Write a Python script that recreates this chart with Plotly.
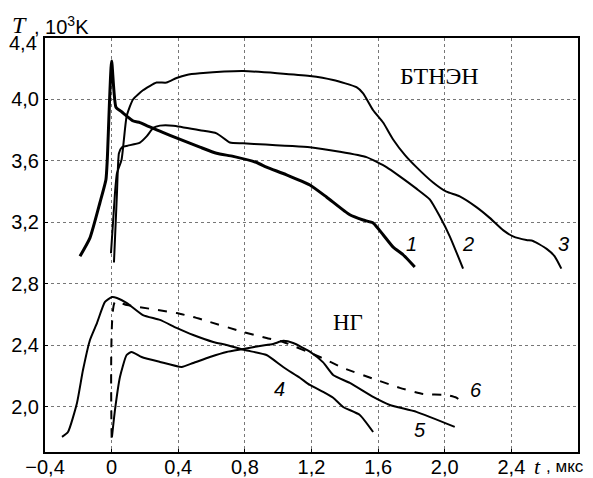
import plotly.graph_objects as go

# ---- data (T in 10^3 K vs t in microseconds) ----
x1 = [-0.19, -0.13, -0.07, -0.034, -0.026, 0.0, 0.026, 0.06, 0.13, 0.17, 0.21, 0.30, 0.40, 0.53, 0.63, 0.73, 0.87, 0.93, 1.05, 1.19, 1.29, 1.43, 1.51, 1.57, 1.63, 1.69, 1.75, 1.82]
y1 = [2.98, 3.10, 3.33, 3.48, 3.61, 4.25, 3.95, 3.92, 3.86, 3.85, 3.83, 3.79, 3.745, 3.69, 3.65, 3.63, 3.59, 3.56, 3.51, 3.444, 3.366, 3.25, 3.216, 3.197, 3.12, 3.04, 2.99, 2.91]

x2 = [0.014, 0.032, 0.044, 0.062, 0.098, 0.17, 0.21, 0.25, 0.29, 0.37, 0.53, 0.63, 0.71, 0.79, 1.19, 1.37, 1.53, 1.65, 1.73, 1.83, 1.91, 1.97, 2.03, 2.11]
y2 = [2.94, 3.39, 3.65, 3.69, 3.70, 3.72, 3.76, 3.815, 3.83, 3.83, 3.80, 3.78, 3.72, 3.715, 3.69, 3.66, 3.625, 3.56, 3.50, 3.42, 3.35, 3.24, 3.11, 2.90]

x3 = [-0.004, 0.02, 0.032, 0.06, 0.09, 0.128, 0.188, 0.27, 0.33, 0.39, 0.45, 0.53, 0.79, 1.19, 1.33, 1.47, 1.51, 1.57, 1.63, 1.69, 1.76, 1.83, 1.93, 2.01, 2.09, 2.19, 2.27, 2.35, 2.41, 2.49, 2.53, 2.61, 2.66, 2.70]
y3 = [3.00, 3.39, 3.52, 3.61, 3.89, 4.00, 4.06, 4.11, 4.11, 4.14, 4.16, 4.17, 4.185, 4.153, 4.127, 4.08, 4.04, 3.93, 3.85, 3.74, 3.64, 3.56, 3.46, 3.40, 3.37, 3.30, 3.23, 3.15, 3.11, 3.086, 3.08, 3.03, 2.98, 2.90]

x4 = [-0.298, -0.262, -0.208, -0.172, -0.13, -0.088, -0.04, 0.002, 0.032, 0.092, 0.188, 0.29, 0.39, 0.49, 0.61, 0.69, 0.80, 0.93, 1.03, 1.13, 1.19, 1.27, 1.33, 1.39, 1.49, 1.57]
y4 = [1.805, 1.837, 2.026, 2.24, 2.436, 2.546, 2.683, 2.715, 2.709, 2.676, 2.598, 2.566, 2.514, 2.468, 2.423, 2.403, 2.37, 2.338, 2.26, 2.19, 2.143, 2.098, 2.06, 2.0, 1.948, 1.837]

x5 = [0.002, 0.02, 0.05, 0.09, 0.12, 0.18, 0.29, 0.42, 0.49, 0.59, 0.69, 0.79, 0.89, 0.97, 1.03, 1.09, 1.19, 1.27, 1.33, 1.43, 1.57, 1.67, 1.83, 2.06]
y5 = [1.805, 1.98, 2.195, 2.338, 2.358, 2.325, 2.293, 2.26, 2.286, 2.325, 2.358, 2.377, 2.397, 2.41, 2.43, 2.416, 2.36, 2.29, 2.208, 2.156, 2.065, 2.013, 1.968, 1.87]

x6 = [0.0, 0.02, 0.092, 0.39, 0.49, 0.59, 0.79, 0.93, 1.03, 1.25, 1.39, 1.59, 1.73, 1.87, 2.01, 2.07, 2.11]
y6 = [1.80, 2.683, 2.663, 2.611, 2.585, 2.553, 2.488, 2.449, 2.423, 2.325, 2.254, 2.176, 2.124, 2.085, 2.078, 2.06, 2.026]

x_tickvals = [-0.4, 0.0, 0.4, 0.8, 1.2, 1.6, 2.0, 2.4, 2.8]
x_ticktext = ["\u22120,4", "0", "0,4", "0,8", "1,2", "1,6", "2,0", "2,4", ""]
y_tickvals = [2.0, 2.4, 2.8, 3.2, 3.6, 4.0, 4.4]
y_ticktext = ["2,0", "2,4", "2,8", "3,2", "3,6", "4,0", ""]
top_ticklabel = "4,4"

curve_labels = ["1", "2", "3", "4", "5", "6"]
label_x = [1.80, 2.14, 2.71, 1.01, 1.85, 2.19]
label_y = [3.06, 3.06, 3.06, 2.12, 1.85, 2.11]

group_labels = ["\u0411\u0422\u041d\u042d\u041d", "\u041d\u0413"]
group_x = [1.97, 1.42]
group_y = [4.15, 2.55]
group_sizes = [24, 23]

SERIF = "Liberation Serif, DejaVu Serif, serif"
SANS = "Liberation Sans, Arial, sans-serif"

fig = go.Figure()
series = [(x1, y1, 3, "solid"), (x2, y2, 2, "solid"), (x3, y3, 2, "solid"),
          (x4, y4, 2, "solid"), (x5, y5, 2, "solid"), (x6, y6, 2, "dash")]
for xs, ys, w, d in series:
    fig.add_trace(go.Scatter(x=xs, y=ys, mode="lines",
                             line=dict(color="black", width=w, dash=d, shape="spline", smoothing=0.5),
                             showlegend=False, hoverinfo="skip"))

for t, lx, ly in zip(curve_labels, label_x, label_y):
    fig.add_annotation(x=lx, y=ly, text="<i>" + t + "</i>", showarrow=False,
                       font=dict(family=SANS, size=20, color="black"))
for t, lx, ly, s in zip(group_labels, group_x, group_y, group_sizes):
    fig.add_annotation(x=lx, y=ly, text=t, showarrow=False,
                       font=dict(family=SERIF, size=s, color="black"))

# top y tick label (drawn slightly below the frame, as in the original)
fig.add_annotation(xref="paper", yref="paper", x=-0.011, y=0.988, xanchor="right", yanchor="middle",
                   text=top_ticklabel, showarrow=False,
                   font=dict(family=SANS, size=20, color="black"))

# axis titles
fig.add_annotation(xref="paper", yref="paper", x=-0.066, y=1.031, xanchor="left", yanchor="middle",
                   text="<i>T</i>", showarrow=False,
                   font=dict(family=SERIF, size=24, color="black"))
fig.add_annotation(xref="paper", yref="paper", x=-0.024, y=1.031, xanchor="left", yanchor="middle",
                   text=", 10<sup>3</sup>K", showarrow=False,
                   font=dict(family=SANS, size=20, color="black"))
fig.add_annotation(xref="paper", yref="paper", x=0.914, y=-0.034, xanchor="left", yanchor="middle",
                   text="<i>t</i>", showarrow=False,
                   font=dict(family=SERIF, size=22, color="black"))
fig.add_annotation(xref="paper", yref="paper", x=0.936, y=-0.034, xanchor="left", yanchor="middle",
                   text=", \u043c\u043a\u0441", showarrow=False,
                   font=dict(family=SANS, size=17, color="black"))

axis_common = dict(showline=True, linecolor="black", linewidth=2, mirror=True,
                   showgrid=True, gridcolor="#777777", griddash="dot", gridwidth=1,
                   zeroline=False, ticks="inside", ticklen=3, tickcolor="black",
                   automargin=False,
                   tickfont=dict(family=SANS, size=20, color="black"))
fig.update_xaxes(range=[-0.4, 2.8], tickvals=x_tickvals, ticktext=x_ticktext,
                 ticklabelstandoff=-4, **axis_common)
fig.update_yaxes(range=[1.707, 4.4], tickvals=y_tickvals, ticktext=y_ticktext, **axis_common)

# page body has an 8px default margin: figure is sized so the plot frame lands at
# x 45..578, y 38..452 of the 593x478 window
fig.update_layout(width=577, height=470, margin=dict(l=37, r=7, t=30, b=26),
                  plot_bgcolor="white", paper_bgcolor="white")
fig.write_html("out.html")
